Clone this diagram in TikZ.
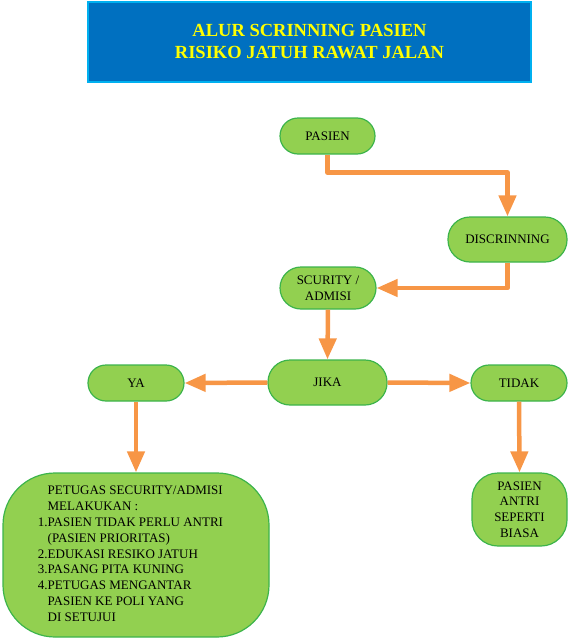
\documentclass[tikz,border=0pt]{standalone}
\usepackage{fontspec}
\setmainfont{Liberation Serif}
\usetikzlibrary{arrows.meta}
\definecolor{titlefill}{HTML}{0070C0}
\definecolor{titleedge}{HTML}{00B0F0}
\definecolor{titletext}{HTML}{FFFF00}
\definecolor{boxfill}{HTML}{92D050}
\definecolor{boxedge}{HTML}{3CB44B}
\definecolor{arrcol}{HTML}{F79646}
\tikzset{
  flowbox/.style={draw=boxedge, line width=1.2pt, fill=boxfill, inner sep=0pt,
    font=\fontsize{13}{15.8}\selectfont, text=black, align=center},
  arr/.style={draw=arrcol, line width=4.5pt, line join=round,
    -{Triangle[length=21pt,width=17pt]}},
}
\begin{document}
\begin{tikzpicture}[x=1pt,y=-1pt]
\useasboundingbox (0,0) rectangle (568,640);
% title
\node[draw=titleedge, line width=1.5pt, fill=titlefill, minimum width=443pt,
  minimum height=80pt, inner sep=0pt, text=titletext, align=center,
  font=\bfseries\fontsize{18.5}{22}\selectfont] (title) at (309.5,42)
  {ALUR SCRINNING PASIEN\\RISIKO JATUH RAWAT JALAN};
% nodes
\node[flowbox, minimum width=95pt, minimum height=36pt, rounded corners=18pt] (pasien) at (327.5,136) {PASIEN};
\node[flowbox, minimum width=119pt, minimum height=45pt, rounded corners=22pt] (disc) at (507.5,239.5) {DISCRINNING};
\node[flowbox, minimum width=96pt, minimum height=42pt, rounded corners=21pt] (scur) at (328,288) {SCURITY /\\ADMISI};
\node[flowbox, minimum width=119pt, minimum height=45pt, rounded corners=22pt] (jika) at (327.5,382.5) {JIKA};
\node[flowbox, minimum width=96pt, minimum height=36pt, rounded corners=18pt] (ya) at (136,383) {YA};
\node[flowbox, minimum width=96pt, minimum height=36pt, rounded corners=18pt] (tidak) at (519,383) {TIDAK};
\node[flowbox, minimum width=95pt, minimum height=73pt, rounded corners=26pt] (antri) at (519.5,509.5) {PASIEN\\ANTRI\\SEPERTI\\BIASA};
\node[flowbox, minimum width=266pt, minimum height=164pt, rounded corners=52pt] (petugas) at (136,555)
  {\begin{tabular}{@{}l@{}l@{}}
   & PETUGAS SECURITY/ADMISI\\
   & MELAKUKAN :\\
   1. & PASIEN TIDAK PERLU ANTRI\\
   & (PASIEN PRIORITAS)\\
   2. & EDUKASI RESIKO JATUH\\
   3. & PASANG PITA KUNING\\
   4. & PETUGAS MENGANTAR\\
   & PASIEN KE POLI YANG\\
   & DI SETUJUI
  \end{tabular}\hspace*{11pt}};
% connectors
\draw[arr] (pasien.south) -- ++(0,18) -| (disc.north);
\draw[arr] (disc.south) |- (scur.east);
\draw[arr] (scur.south) -- (jika.north);
\draw[arr] (jika.west) -- (ya.east);
\draw[arr] (jika.east) -- (tidak.west);
\draw[arr] (ya.south) -- (petugas.north);
\draw[arr] (tidak.south) -- (antri.north);
\end{tikzpicture}
\end{document}
